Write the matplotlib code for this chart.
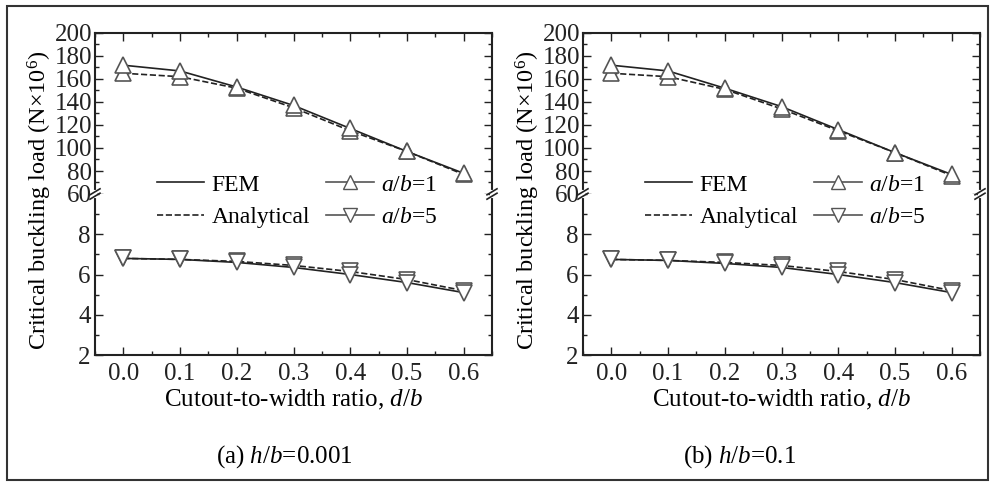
import matplotlib
matplotlib.use("Agg")
import matplotlib.pyplot as plt
from matplotlib.lines import Line2D
from matplotlib.patches import Rectangle
from matplotlib.ticker import MultipleLocator

plt.rcParams['font.family'] = ['Liberation Serif', 'DejaVu Serif']
plt.rcParams['mathtext.fontset'] = 'custom'
plt.rcParams['mathtext.rm'] = 'Liberation Serif'
plt.rcParams['mathtext.it'] = 'Liberation Serif:italic'

# ---- data ----
d_b = [0.0, 0.1, 0.2, 0.3, 0.4, 0.5, 0.6]
x_ticks = [0.0, 0.1, 0.2, 0.3, 0.4, 0.5, 0.6]

# panel (a) h/b = 0.001
a_ab1_fem = [172, 167, 153, 137, 117, 97, 78]
a_ab1_ana = [165, 162, 152, 135, 115, 97, 77]
a_ab5_fem = [6.8, 6.75, 6.6, 6.35, 6.0, 5.6, 5.1]
a_ab5_ana = [6.8, 6.75, 6.65, 6.45, 6.15, 5.75, 5.2]

# panel (b) h/b = 0.1
b_ab1_fem = [172, 167, 152, 136, 116, 96, 77]
b_ab1_ana = [165, 162, 151, 134, 115, 96, 76]
b_ab5_fem = [6.75, 6.7, 6.55, 6.35, 6.0, 5.6, 5.1]
b_ab5_ana = [6.75, 6.7, 6.6, 6.45, 6.15, 5.75, 5.2]

upper_lim = (60, 200)
lower_lim = (2, 10)
upper_ticks = [60, 80, 100, 120, 140, 160, 180, 200]
lower_ticks = [2, 4, 6, 8]

panels = [
    dict(left=95, right=492, ab1=(a_ab1_fem, a_ab1_ana), ab5=(a_ab5_fem, a_ab5_ana),
         caption=r"(a) $h/b$=0.001", cap_x=284),
    dict(left=583, right=980, ab1=(b_ab1_fem, b_ab1_ana), ab5=(b_ab5_fem, b_ab5_ana),
         caption=r"(b) $h/b$=0.1", cap_x=740),
]

W, H = 990, 484
fig = plt.figure(figsize=(W / 100, H / 100), dpi=100)

# outer frame
fig.patches.append(Rectangle((7 / W, 1 - 480 / H), (988 - 7) / W, (480 - 6) / H,
                             transform=fig.transFigure, fill=False,
                             edgecolor='#333333', linewidth=1.5))

top_px, brk_px, bot_px = 33, 194, 355
LINE = '#222222'
MEDGE = '#555555'
FS = 18

def fy(px):
    return 1 - px / H

def style(ax):
    ax.tick_params(direction='in', which='both', labelsize=FS, right=True,
                   width=1.0, colors='#222222', pad=3)
    ax.tick_params(which='major', length=6)
    ax.tick_params(which='minor', length=3)
    for s in ax.spines.values():
        s.set_linewidth(1.5)
        s.set_color('#222222')
    ax.set_xlim(-0.05, 0.65)
    ax.xaxis.set_major_locator(MultipleLocator(0.1))
    ax.xaxis.set_minor_locator(MultipleLocator(0.05))

for p in panels:
    l = p['left'] / W
    w = (p['right'] - p['left']) / W
    axu = fig.add_axes([l, fy(brk_px), w, fy(top_px) - fy(brk_px)])
    axl = fig.add_axes([l, fy(bot_px), w, fy(brk_px) - fy(bot_px)])
    for ax in (axu, axl):
        style(ax)
    # upper
    fem, ana = p['ab1']
    axu.plot(d_b, ana, ls='--', color=LINE, lw=1.2, marker='^', ms=11,
             mfc='white', mec=MEDGE, mew=1.2)
    axu.plot(d_b, fem, ls='-', color=LINE, lw=1.2, marker='^', ms=11,
             mfc='white', mec=MEDGE, mew=1.2)
    axu.set_ylim(*upper_lim)
    axu.set_yticks(upper_ticks)
    axu.yaxis.set_minor_locator(MultipleLocator(10))
    axu.spines['bottom'].set_visible(False)
    axu.tick_params(axis='x', which='both', bottom=False, top=True,
                    labelbottom=False)
    axu.tick_params(axis='y', pad=2)
    # lower
    fem, ana = p['ab5']
    axl.plot(d_b, ana, ls='--', color=LINE, lw=1.2, marker='v', ms=11,
             mfc='white', mec=MEDGE, mew=1.2)
    axl.plot(d_b, fem, ls='-', color=LINE, lw=1.2, marker='v', ms=11,
             mfc='white', mec=MEDGE, mew=1.2)
    axl.set_ylim(*lower_lim)
    axl.set_yticks(lower_ticks)
    axl.yaxis.set_minor_locator(MultipleLocator(1))
    axl.spines['top'].set_visible(False)
    axl.tick_params(axis='x', which='both', top=False, pad=6)
    axl.set_xticks(x_ticks)
    axl.set_xticklabels([f"{v:.1f}" for v in x_ticks])
    axl.set_xlabel(r"Cutout-to-width ratio, $d/b$", fontsize=FS, labelpad=2)

    # break marks
    for xpx in (p['left'], p['right']):
        fig.add_artist(Line2D([xpx / W, xpx / W], [fy(brk_px - 2), fy(brk_px + 2)],
                              transform=fig.transFigure, color='white', lw=3))
        for dy in (-2.2, 2.2):
            yc = brk_px + dy
            fig.add_artist(Line2D([(xpx - 5) / W, (xpx + 5) / W],
                                  [fy(yc + 3), fy(yc - 3)],
                                  transform=fig.transFigure, color='#222222', lw=1.2))

    # y label
    fig.text((p['left'] - 55) / W, fy(200), r"Critical buckling load (N×10$^6$)",
             rotation=90, ha='center', va='center', fontsize=17.5)

    # legend
    handles = [
        Line2D([], [], color=LINE, lw=1.2, ls='-'),
        Line2D([], [], color=LINE, lw=1.2, ls='--'),
        Line2D([], [], color=MEDGE, lw=1.2, marker='^', ms=10, mfc='white', mec=MEDGE),
        Line2D([], [], color=MEDGE, lw=1.2, marker='v', ms=10, mfc='white', mec=MEDGE),
    ]
    labels = ["FEM", "Analytical", r"$a/b$=1", r"$a/b$=5"]
    fig.legend(handles, labels, ncol=2, frameon=False, fontsize=17,
               loc='center left',
               bbox_to_anchor=((p['left'] + 62) / W, fy(201)),
               handlelength=2.0, handletextpad=0.3, columnspacing=0.7,
               labelspacing=0.45, borderpad=0, borderaxespad=0)

    # caption
    fig.text(p['cap_x'] / W, fy(457), p['caption'], ha='center', va='center',
             fontsize=18)

fig.savefig("out.png", dpi=100)
